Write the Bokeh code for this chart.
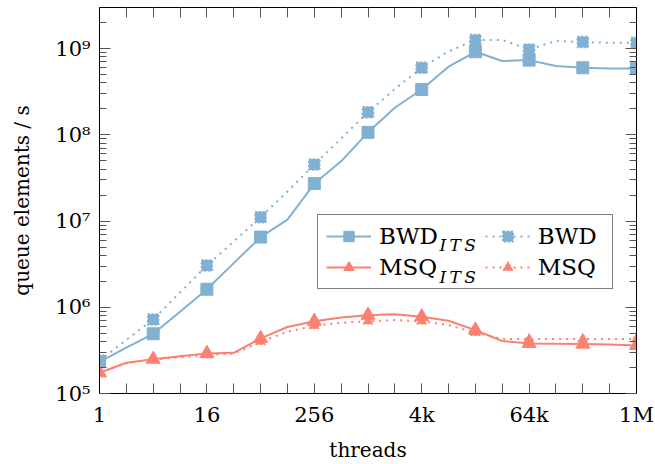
import math
from bokeh.plotting import figure
from bokeh.models import FixedTicker, LogAxis, Legend, LegendItem, Label, Range1d
from bokeh.embed import file_html
from bokeh.resources import INLINE

# ---- data ----
threads = [1, 2, 4, 8, 16, 32, 64, 128, 256, 512, 1024, 2048, 4096, 8192,
           16384, 32768, 65536, 131072, 262144, 524288, 1048576]
x_tick_values = [1, 16, 256, 4096, 65536, 1048576]
x_tick_labels = ["1", "16", "256", "4k", "64k", "1M"]
y_tick_values = [1e5, 1e6, 1e7, 1e8, 1e9]
y_tick_labels = ["10\u2075", "10\u2076", "10\u2077", "10\u2078", "10\u2079"]

bwd_its = [2.33e5, 3.4e5, 4.93e5, 8.9e5, 1.62e6, 3.25e6, 6.52e6, 1.04e7, 2.72e7,
           4.93e7, 1.07e8, 2.06e8, 3.36e8, 6.17e8, 9.2e8, 7.2e8, 7.36e8, 6.3e8,
           6.0e8, 5.9e8, 5.9e8]
bwd = [2.4e5, 4.2e5, 7.24e5, 1.49e6, 3.05e6, 5.8e6, 1.11e7, 2.2e7, 4.52e7, 9.1e7,
       1.83e8, 3.4e8, 6.0e8, 9.3e8, 1.26e9, 1.26e9, 9.8e8, 1.23e9, 1.19e9,
       1.17e9, 1.17e9]
msq_its = [1.74e5, 2.27e5, 2.5e5, 2.7e5, 2.92e5, 2.96e5, 4.36e5, 5.9e5, 6.9e5,
           7.6e5, 8.1e5, 8.3e5, 7.77e5, 6.98e5, 5.44e5, 4.06e5, 3.81e5, 3.77e5,
           3.74e5, 3.7e5, 3.61e5]
msq = [1.74e5, 2.25e5, 2.48e5, 2.63e5, 2.79e5, 2.9e5, 3.99e5, 5.2e5, 6.1e5,
       6.6e5, 6.9e5, 7.1e5, 6.9e5, 6.2e5, 5.1e5, 4.3e5, 4.28e5, 4.3e5, 4.3e5,
       4.3e5, 4.3e5]

FONT = "DejaVu Serif"
BLUE = "#80B1D3"
RED = "#FB8072"
TICK = "#555555"

X0, X1 = 1, 1048576
Y0, Y1 = 1e5, 3.0e9
W, H = 655, 464
BL, BR, BT, BB = 99, 19, 7, 70
FRAME_W = W - BL - BR
FRAME_H = H - BT - BB - 1

p = figure(width=W, height=H, x_axis_type="log", y_axis_type="log",
           x_range=Range1d(X0, X1), y_range=Range1d(Y0, Y1),
           output_backend="svg", toolbar_location=None,
           min_border_left=BL, min_border_right=BR, min_border_top=BT,
           min_border_bottom=BB)
p.grid.visible = False
p.outline_line_color = "black"
p.outline_line_width = 1
p.background_fill_color = "white"
p.border_fill_color = "white"

x_minor = [t for t in threads if t not in x_tick_values]
y_minor = [k * 10 ** e for e in range(5, 10) for k in range(2, 10) if k * 10 ** e < Y1]

def style_x(ax, labels=True):
    ax.ticker = FixedTicker(ticks=x_tick_values, minor_ticks=x_minor)
    ax.major_tick_in = 10
    ax.major_tick_out = 0
    ax.minor_tick_in = 10
    ax.minor_tick_out = 0
    ax.major_tick_line_color = TICK
    ax.minor_tick_line_color = TICK
    ax.axis_line_color = "black"
    ax.major_label_overrides = {v: s for v, s in zip(x_tick_values, x_tick_labels)}
    ax.major_label_text_font = FONT
    if labels:
        ax.major_label_text_font_size = "21px"
        ax.major_label_text_color = "black"
        ax.major_label_standoff = 9
    else:
        ax.major_label_text_font_size = "1px"
        ax.major_label_text_alpha = 0
        ax.major_label_standoff = 0

def style_y(ax, labels=True):
    ax.ticker = FixedTicker(ticks=y_tick_values, minor_ticks=y_minor)
    ax.major_tick_in = 11
    ax.major_tick_out = 0
    ax.minor_tick_in = 7
    ax.minor_tick_out = 0
    ax.major_tick_line_color = TICK
    ax.minor_tick_line_color = TICK
    ax.axis_line_color = "black"
    ax.major_label_overrides = {v: s for v, s in zip(y_tick_values, y_tick_labels)}
    ax.major_label_text_font = FONT
    if labels:
        ax.major_label_text_font_size = "21px"
        ax.major_label_text_color = "black"
        ax.major_label_standoff = 9
    else:
        ax.major_label_text_font_size = "1px"
        ax.major_label_text_alpha = 0
        ax.major_label_standoff = 0

style_x(p.xaxis[0])
style_y(p.yaxis[0])
p.xaxis.axis_label = "threads"
p.yaxis.axis_label = "queue elements / s"
for ax in (p.xaxis[0], p.yaxis[0]):
    ax.axis_label_text_font = FONT
    ax.axis_label_text_font_size = "20px"
    ax.axis_label_text_font_style = "normal"
    ax.axis_label_text_color = "black"
p.xaxis.axis_label_standoff = 8
p.yaxis.axis_label_standoff = 18

top = LogAxis()
style_x(top, labels=False)
p.add_layout(top, "above")
right = LogAxis()
style_y(right, labels=False)
p.add_layout(right, "right")

xm = threads[::2]

l1 = p.line(threads, bwd_its, line_color=BLUE, line_width=2)
s1 = p.scatter(xm, bwd_its[::2], marker="square", size=12, fill_color=BLUE,
               line_color=BLUE, line_width=1)
l2 = p.line(threads, bwd, line_color=BLUE, line_width=2, line_dash="2 5")
s2 = p.scatter(xm, bwd[::2], marker="square", size=11, fill_color=BLUE,
               line_color=BLUE, line_width=1.5, line_dash="2 2")
l3 = p.line(threads, msq_its, line_color=RED, line_width=2)
s3 = p.scatter(xm, msq_its[::2], marker="triangle", size=14, fill_color=RED,
               line_color=RED, line_width=1)
l4 = p.line(threads, msq, line_color=RED, line_width=2, line_dash="2 5")
s4 = p.scatter(xm, msq[::2], marker="triangle", size=10, fill_color=RED,
               line_color=RED, line_width=1, line_dash="2 2")

pad = "\u2002\u2002\u2002 "
legend = Legend(items=[
    LegendItem(label="BWD" + pad, renderers=[l1, s1]),
    LegendItem(label="MSQ" + pad, renderers=[l3, s3]),
    LegendItem(label="BWD ", renderers=[l2, s2]),
    LegendItem(label="MSQ ", renderers=[l4, s4]),
], ncols=2, location=(218, 104))
legend.label_text_font = FONT
legend.label_text_font_size = "23px"
legend.label_text_color = "black"
legend.glyph_width = 45
legend.glyph_height = 26
legend.label_height = 26
legend.label_standoff = 8
legend.spacing = 5
legend.padding = 8
legend.margin = 0
legend.border_line_color = "black"
legend.border_line_width = 1
legend.background_fill_alpha = 0
p.add_layout(legend)

# subscript "ITS" next to the first-column legend labels (frame pixel offsets -> data)
def to_data(px, py):
    x = X0 * (X1 / X0) ** (px / FRAME_W)
    y = Y0 * (Y1 / Y0) ** (py / FRAME_H)
    return x, y

for py in (149, 117):
    lx, ly = to_data(340, py)
    p.add_layout(Label(x=lx, y=ly, text="I\u2009T\u2009S", text_font=FONT,
                       text_font_size="17px", text_font_style="italic",
                       text_color="black", text_baseline="alphabetic",
                       level="overlay"))

open("out.html", "w").write(file_html(p, INLINE))
